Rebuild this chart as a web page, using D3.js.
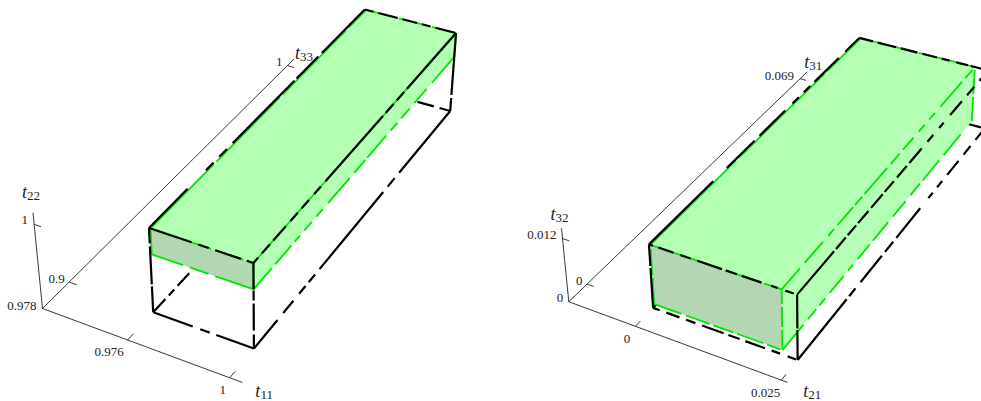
<!DOCTYPE html>
<html>
<head>
<meta charset="utf-8">
<title>Allowed transition regions</title>
<script src="https://cdnjs.cloudflare.com/ajax/libs/d3/7.8.5/d3.min.js"></script>
<style>
html, body { margin: 0; background: #fff; overflow: hidden; }
svg { display: block; }
text { font-family: "Liberation Serif", serif; fill: #222; opacity: 0.99; }
.axis { stroke: #222; stroke-width: 0.9; fill: none; }
.outer { stroke: #000; stroke-width: 2.2; fill: none; }
.inner { stroke: #00e400; stroke-width: 1.8; fill: none; }
</style>
</head>
<body>
<script>
// values: x, depth, height of each plot

// left plot
var leftNames = ["11", "33", "22"];
var leftOuter = [[0.976, 1], [0.9, 1], [0.978, 1]];
var leftInner = [[0.97636, 1], [0.9, 1], [0.9934, 1]];
var leftAxes = [[0.95488, 1.00288], [0.89, 1.0036], [0.978, 1.00293]];
var leftTicks = [[0.976, 1], [0.9, 1], [0.978, 1]];
var leftTickLabels = [["0.976", "1"], ["0.9", "1"], ["0.978", "1"]];

// right plot
var rightNames = ["21", "31", "32"];
var rightOuter = [[0, 0.025], [0, 0.069], [0, 0.012]];
var rightInner = [[0.00025, 0.0225], [0, 0.069], [0.00084, 0.012]];
var rightAxes = [[-0.01225, 0.026], [-0.00483, 0.07183], [0, 0.0139]];
var rightTicks = [[0, 0.025], [0, 0.069], [0, 0.012]];
var rightTickLabels = [["0", "0.025"], ["0", "0.069"], ["0", "0.012"]];

// camera of each plot, fitted to the box corners
var leftCamera = [93.616, 281.460, -9.624, 153.220, 26.486, -208.585, -92.580, 312.300, -0.02789, 0.20134, -0.03609];
var rightCamera = [107.435, 389.274, -20.125, 653.098, 35.340, -193.196, -69.558, 307.887, -0.04652, 0.21424, -0.02461];

var width = 981, height = 401;

var svg = d3.select("body").append("svg")
  .attr("width", width)
  .attr("height", height);

var line = d3.line();

// [corner, corner, dashes], corners are low/high per axis
var leftHidden = [
  ["000", "010", "18 5 8 5 17 300"],
  ["110", "010", "11 6 17 400"]
];
var leftInnerEdges = [
  ["001", "011", "90 4"], ["001", "101", "30 4"], ["011", "111", "30 4"],
  ["000", "100", "33 7 20 7 40"], ["000", "001", "30"],
  ["100", "101", "30"], ["100", "110", "28 5 25 5 8 7 11 7 10 8 33 7 17 3 29 7 10 6 13 7 19 8 40"],
  ["110", "111", "30"], ["101", "111", "60 5"]
];
var leftOuterEdges = [
  ["000", "100", "42 8 10 7 40"],
  ["000", "001", "26 2 38 3 30"],
  ["100", "101", "14 4 27 3 10 1 40"],
  ["110", "111", "13 3 70"],
  ["001", "101", "45 7 11 7 27 6 12"],
  ["001", "011", "55 26 11 8 11 8 88 3 31 5 65"],
  ["011", "111", "9 5 20 5 15 5 9 5 20"],
  ["101", "111", "7 6 12 5 19 7 11 6 11 8 10 7 87 4 12 5 11 4 80"],
  ["100", "110", "37 9 16 9 10 5 10 7 100 7 11 7 90"]
];

var rightHidden = [
  ["000", "010", "20 5"],
  ["110", "010", "0 4 14 4 14 4"]
];
var rightInnerEdges = [
  ["001", "011", "120 4"], ["001", "101", "36 4"], ["011", "111", "26 4"],
  ["000", "100", "29 5 25 4 21 4 28 4 14"], ["000", "001", "26 3"],
  ["100", "101", "20 3"], ["100", "110", "33 7 13 5 9 7 22 7 8 7 19 5 24 7 20 8 15 4 26 7 27"],
  ["110", "111", "24 3"], ["101", "111", "28 7 28 8 9 5 24 3 11 3 35 5 14 5 16 8 9 7 9 8 33 5 11"]
];
var rightOuterEdges = [
  ["000", "100", "7 7 14 7 10 7 23 5 12 6 21 7 9 8 9"],
  ["000", "001", "40 2 30"],
  ["100", "101", "30 1.5 40"],
  ["001", "101", "4 6 16 7 11 7 26 4 12 5 21 10 7 8 9"],
  ["001", "011", "90 19 39 7 36 10 9 7 9 6 34 9 20"],
  ["011", "111", "14 5 19 5 17 5 15 5 8 7 12 3 12"],
  ["101", "111", "57 3 15 3 13 3 16 4 18 3 14 5 15 4 19 9 9 9 7 10 18 8 11 8"],
  ["100", "110", "78 4 10 8 34 5 13 5 38 13 7 7 8 8 18 8 11 8 20"]
];

// label offsets from the tick on the axis, and of the title from the axis end
var leftLabelOffsets = [[[-18.6, 16], [-7, 16.3]], [[-12.6, 0.6], [-8.2, 0.9]], [[-20.7, 1.3], [-9.3, 0]]];
var leftTitleOffsets = [[13, 15], [1, 0], [-11, -15]];
var rightLabelOffsets = [[[-8.3, 16.6], [-15.7, 16.7]], [[-7.7, 1], [-20.7, 1]], [[-8.7, 0.3], [-20.6, 0.7]]];
var rightTitleOffsets = [[15.7, 15], [-3, -3.7], [-11, -8]];

// tick length in box units, along depth for the x axis and along x for the others
var leftTickLength = [0.022, 0.08, 0.07];
var rightTickLength = [0.02, 0.05, 0.05];

function drawPlot(p) {
  var g = svg.append("g");

  // one scale per axis, 0 and 1 are the faces of the outer box
  var scales = p.outer.map(function(d) {
    return d3.scaleLinear().domain(d).range([0, 1]);
  });

  function unit(u) {
    var m = p.camera;
    var d = m[8] * u[0] + m[9] * u[1] + m[10] * u[2] + 1;
    return [
      (m[0] * u[0] + m[1] * u[1] + m[2] * u[2] + m[3]) / d,
      (m[4] * u[0] + m[5] * u[1] + m[6] * u[2] + m[7]) / d
    ];
  }

  function place(v) {
    return unit(v.map(function(x, i) { return scales[i](x); }));
  }

  function corner(box, c) {
    return place(c.split("").map(function(bit, i) { return box[i][+bit]; }));
  }

  function edges(list, box, cls) {
    g.selectAll(null).data(list).enter().append("path")
      .attr("class", cls)
      .attr("d", function(e) { return line([corner(box, e[0]), corner(box, e[1])]); })
      .attr("stroke-dasharray", function(e) { return e[2]; });
  }

  function face(cs, color) {
    g.append("path")
      .attr("d", line(cs.map(function(c) { return corner(p.inner, c); })) + "Z")
      .attr("fill", color);
  }

  var low = p.axes.map(function(d) { return d[0]; });

  // axes
  p.axes.forEach(function(d, i) {
    var end = low.slice();
    end[i] = d[1];
    g.append("path").attr("class", "axis").attr("d", line([place(low), place(end)]));

    var e = place(end);
    var title = g.append("text")
      .attr("x", e[0] + p.titleOffsets[i][0])
      .attr("y", e[1] + p.titleOffsets[i][1]);
    title.append("tspan").attr("font-style", "italic").attr("font-size", 18).text("t");
    title.append("tspan").attr("font-size", 13).attr("dy", 2).text(p.names[i]);

    p.ticks[i].forEach(function(t, k) {
      var at = low.slice();
      at[i] = t;
      var a = place(at);
      if (t !== d[0]) {
        var o = at.map(function(x, j) { return scales[j](x); });
        o[i === 0 ? 1 : 0] += p.tickLength[i];
        g.append("path").attr("class", "axis").attr("d", line([a, unit(o)]));
      }
      g.append("text")
        .attr("x", a[0] + p.labelOffsets[i][k][0])
        .attr("y", a[1] + p.labelOffsets[i][k][1])
        .attr("text-anchor", "middle")
        .attr("font-size", 13)
        .text(p.tickLabels[i][k]);
    });
  });

  // hidden edges go under the filled block
  edges(p.hidden, p.outer, "outer");

  face(["001", "101", "111", "011"], "#b3ffb3");
  face(["100", "110", "111", "101"], "#b3ffb3");
  face(["000", "100", "101", "001"], "#b3d6b3");

  edges(p.innerEdges, p.inner, "inner");
  edges(p.outerEdges, p.outer, "outer");
}

drawPlot({
  names: leftNames, outer: leftOuter, inner: leftInner, axes: leftAxes,
  ticks: leftTicks, tickLabels: leftTickLabels, camera: leftCamera,
  hidden: leftHidden, innerEdges: leftInnerEdges, outerEdges: leftOuterEdges,
  labelOffsets: leftLabelOffsets, titleOffsets: leftTitleOffsets, tickLength: leftTickLength
});

drawPlot({
  names: rightNames, outer: rightOuter, inner: rightInner, axes: rightAxes,
  ticks: rightTicks, tickLabels: rightTickLabels, camera: rightCamera,
  hidden: rightHidden, innerEdges: rightInnerEdges, outerEdges: rightOuterEdges,
  labelOffsets: rightLabelOffsets, titleOffsets: rightTitleOffsets, tickLength: rightTickLength
});
</script>
</body>
</html>
